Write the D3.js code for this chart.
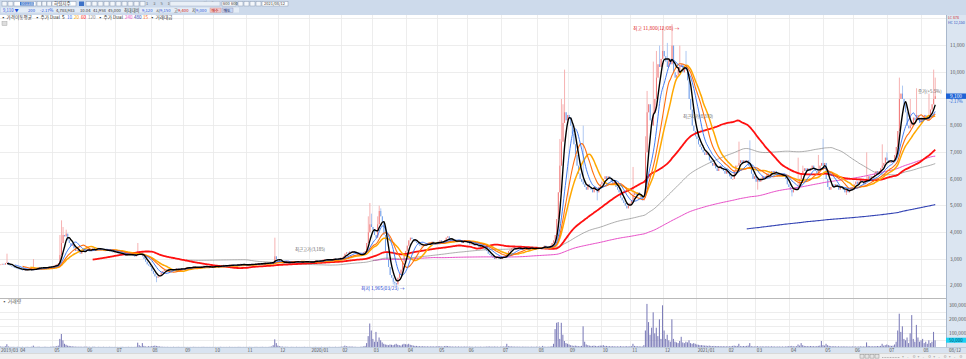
<!DOCTYPE html>
<html><head><meta charset="utf-8">
<script src="https://cdn.jsdelivr.net/npm/d3@7"></script>
<style>
body{margin:0;background:#fff;overflow:hidden}
svg{display:block;font-family:"Noto Sans CJK KR","Noto Sans",sans-serif}
</style></head><body>
<svg id="chart" width="966" height="359"></svg>
<script>
// month labels on the date axis
const monthLabels = ['2019/03','04','05','06','07','08','09','10','11','12',
  '2020/01','02','03','04','05','06','07','08','09','10','11','12',
  '2021/01','02','03','04','05','06','07','08'];

// daily closing prices, one array per month (won)
const closes = [
  [2800,2820,2790,2850,2880,2780,2750,2720,2700,2680,2650,2640],
  [2620,2600,2590,2610,2580,2600,2620,2600,2590,2610,2630,2650,2700,2680,2660,2650,2680,2700,2690,2710,2700,2720],
  [2750,2780,2800,2850,3150,3600,3900,3850,3950,3700,3600,3500,3550,3400,3300,3350,3250,3200,3300,3350,3300],
  [3350,3380,3300,3320,3400,3380,3350,3420,3400,3380,3350,3300,3320,3350,3330,3300,3280,3250,3270],
  [3250,3220,3200,3180,3200,3150,3120,3150,3180,3200,3150,3120,3100,3150,3300,3200,3150,3100,3000,2900,2800,2750,2700],
  [2550,2450,2350,2300,2350,2400,2500,2550,2600,2580,2600,2620,2600,2580,2600,2620,2650,2600,2620,2640,2650],
  [2650,2680,2700,2680,2660,2700,2720,2700,2680,2660,2700,2720,2750,2730,2700,2680,2700,2720,2700],
  [2720,2750,2730,2700,2720,2760,2780,2750,2730,2750,2770,2800,2780,2760,2750,2780,2800,2820,2800,2780,2760],
  [2780,2800,2820,2800,2780,2800,2820,2850,2830,2800,2820,2850,2870,2850,2830,2850,2880,2900,3100,3000,2950],
  [2900,2880,2850,2870,2900,2880,2850,2860,2880,2900,2920,2900,2880,2870,2890,2900,2920,2900,2880,2870],
  [2880,2900,2920,2950,2930,2900,2920,2950,2980,3000,2980,2960,2950,2980,3000,3020,3000,2980,3000,3050],
  [3050,3100,3200,3250,3230,3280,3250,3300,3250,3200,3150,3120,3150,3200,3250,3300,3600,4000,4300,4200],
  [4100,3900,3800,4300,4800,4600,4400,3900,3300,3000,2700,2400,2300,2150,2100,2050,2300,2450,2600,2900,3200,3300],
  [3500,3700,3800,3750,3700,3650,3600,3550,3500,3500,3550,3500,3550,3600,3550,3600,3650,3600,3550,3600],
  [3650,3700,3650,3600,3700,3800,3850,3750,3700,3650,3650,3700,3650,3700,3650,3600,3650,3700,3650],
  [3600,3550,3600,3550,3500,3550,3500,3450,3500,3450,3400,3350,3300,3200,3150,3100,3050,3000,3050,3100,3050,3000],
  [3050,3100,3150,3200,3300,3350,3400,3450,3400,3350,3400,3450,3400,3350,3400,3450,3400,3350,3400,3450,3400,3350,3400],
  [3400,3450,3400,3450,3500,3450,3400,3450,3500,3600,3700,3900,4500,5500,6500,7400,8100,8500,8200,8400],
  [8300,8000,7700,7300,6900,6500,6200,6000,5900,5800,5700,5600,5800,5700,5600,5500,5700,5600,5500,5700,5800],
  [5900,6000,6100,6000,6100,6000,5900,5800,5900,5700,5600,5500,5300,5200,5100,5000,4900,5000,5100],
  [5200,5400,5500,5400,5500,5400,5300,5200,5300,7000,8500,8800,8200,8000,8500,9000,9800,10300,10200,10500,10800],
  [10600,10400,10200,10500,10300,11000,10000,9800,9900,10100,10200,10300,10000,10200,10100,9700,9000,8600,8000,7800,7600],
  [7500,7300,7200,7100,7000,6900,7000,6900,6700,6600,6500,6600,6400,6300,6400,6500,6400,6300,6200,6300],
  [6200,6100,6000,6000,6300,6500,6500,6600,6700,6600,6700,6600,6700,6500,6400,6200,6000,6100],
  [5900,6000,5900,6000,6100,6000,6100,6200,6100,6200,6300,6200,6300,6200,6100,6200,6100,6200,6100,6000,5800,5700],
  [5600,5500,5600,5700,5600,5700,6000,6200,6300,6400,6300,6400,6300,6400,6500,6400,6300,6200,6300,6500,6600,6500],
  [6600,6000,5700,5600,5700,5800,5700,5800,5700,5600,5700,5700,5600,5500,5600,5500,5600,5700,5600],
  [5800,5900,5800,5900,6000,5900,5800,5900,6000,6100,6000,6100,6100,6200,6300,6200,6300,6400,6500,6600,6800,6700],
  [6600,6700,6600,6700,6900,7200,7800,9000,9200,9000,8800,8500,8000,7900,8000,8100,8300,8200,8400,8300,8100,8300],
  [8200,8400,8300,8200,8400,8600,8800,9000,9100]
];

// daily volume in thousands of shares, one array per month
const volumes = [
  [6,5,4,8,22,6,4,3,4,3,3,4],
  [3,3,4,3,3,4,3,3,5,12,4,3,5,4,3,3,4,4,3,3,4,5],
  [5,6,8,12,60,95,50,25,18,12,10,8,7,6,5,5,4,5,4,4,5],
  [5,4,4,3,4,5,3,3,4,3,3,4,3,3,3,4,3,3,3],
  [3,3,3,3,4,3,3,3,4,3,3,3,3,4,33,15,8,30,10,6,5,8,6],
  [8,10,12,10,8,6,5,4,4,3,4,3,3,3,4,3,3,4,3,3,3],
  [3,3,3,3,3,3,4,3,3,3,3,3,4,3,3,3,3,3,3],
  [3,3,3,3,4,3,3,3,3,3,4,3,3,3,3,3,4,3,3,3,3],
  [3,3,4,3,3,3,4,3,3,3,4,3,3,3,3,5,6,15,57,30,12],
  [8,6,5,4,4,4,3,3,4,3,3,4,3,3,3,3,4,3,3,3],
  [3,3,3,4,3,3,3,4,3,3,3,3,4,3,3,3,4,3,3,4],
  [5,6,12,8,6,5,6,5,4,4,3,3,4,5,6,10,30,80,170,120],
  [60,40,110,40,70,50,35,25,20,18,15,20,18,15,20,25,18,15,12,20,25,22],
  [20,25,18,15,12,10,10,8,8,7,8,7,6,7,6,6,7,6,6,7],
  [7,8,6,6,8,10,9,7,6,6,5,6,5,6,5,5,5,6,5],
  [5,5,5,4,4,5,4,4,5,4,4,5,5,6,6,5,5,6,5,5,4,5],
  [5,6,6,25,8,7,6,6,5,5,5,5,4,5,5,4,5,4,4,5,4,4,5],
  [4,5,4,10,5,4,4,5,5,8,25,130,175,180,60,175,90,45,30,25],
  [20,15,12,10,12,10,8,8,10,150,40,20,15,12,10,10,12,10,8,10,12],
  [12,15,10,10,8,8,7,8,7,6,7,6,8,7,6,7,8,6,7],
  [8,25,10,8,7,7,6,6,15,120,310,180,90,140,250,100,140,80,200,60,300],
  [120,60,90,50,40,200,60,40,35,30,45,75,35,30,40,35,50,30,25,30,25],
  [20,18,15,15,14,12,12,10,12,10,9,10,8,9,8,8,7,8,7,7],
  [7,7,8,10,12,10,10,25,8,8,9,8,10,12,30,8,7,6],
  [7,8,6,6,7,6,6,7,6,6,7,6,6,5,6,6,5,6,5,6,7,8],
  [8,10,7,7,8,20,12,30,15,10,9,8,8,9,8,8,7,8,10,12,45,15],
  [12,25,15,10,8,7,8,7,6,7,6,6,7,6,6,6,5,6,6],
  [6,6,5,6,7,6,6,6,35,10,8,7,8,7,8,9,8,10,25,12,15,20],
  [15,12,10,12,20,40,120,240,110,150,60,50,70,30,100,230,60,40,160,70,40,50],
  [60,30,40,25,50,30,40,110,50]
];

// intraday extremes that stick out of the bodies: [day index, price]
const wickHighs = [[4,3200],[21,3000],[38,3900],[39,4450],[40,4200],[42,4100],[88,3600],[176,3800],
  [236,4600],[237,5100],[238,4700],[242,4600],[243,5000],[244,4900],
  [359,7500],[360,9000],[361,8800],[362,10100],[374,8000],[406,6450],[414,7600],[415,9300],
  [419,10400],[421,10800],[423,11000],[425,11700],[428,11100],[431,11800],[436,11000],[440,10800],
  [474,7400],[481,7450],[512,6800],[515,6500],[525,6900],[528,7500],[556,7000],[566,7300],[569,7000],
  [577,9800],[579,9500],[584,9000],[588,9400],[596,9200],[599,10100],[600,9800]];
const wickLows = [[100,2130],[252,2050],[253,2000],[254,1965],[383,5200],[486,5600],[508,5350],[531,5750],[543,5400]];

const maPeriods = [480,240,120,60,20,15,10,5];
const priceTicks = [2000,3000,4000,5000,6000,7000,8000,9000,10000,11000,12000];
const volumeTicks = [100,200,300];

const maStyle = {
  5:{c:'#000000',w:1.4}, 10:{c:'#2f6ef0',w:0.9}, 15:{c:'#ff6f10',w:1.1}, 20:{c:'#ffa800',w:1.5},
  60:{c:'#ff1010',w:1.8}, 120:{c:'#8a8a8a',w:0.7}, 240:{c:'#e84fc8',w:1}, 480:{c:'#3444b4',w:1.1}
};

// ---- build flat daily table ----
const data = [];
const monthStart = [];
closes.forEach((m, mi) => {
  monthStart.push(data.length);
  m.forEach((c, di) => data.push({close: c, vol: volumes[mi][di]}));
});
data.forEach((d, i) => {
  d.i = i;
  d.open = i === 0 ? d.close : data[i - 1].close;
  d.high = Math.max(d.open, d.close);
  d.low = Math.min(d.open, d.close);
});
wickHighs.forEach(([i, v]) => { data[i].high = Math.max(data[i].high, v); });
wickLows.forEach(([i, v]) => { data[i].low = Math.min(data[i].low, v); });

function movingAverage(n) {
  const out = [];
  let sum = 0;
  data.forEach((d, i) => {
    sum += d.close;
    if (i >= n) sum -= data[i - n].close;
    if (i >= n - 1) out.push({i: i, v: sum / n});
  });
  return out;
}

const svg = d3.select('#chart');
const W = 966, H = 359;
const plotRight = 946;
const x = d3.scaleBand().domain(d3.range(data.length)).range([0, 936]);
const bw = x.bandwidth();
const cx = i => x(i) + bw / 2;
const y = d3.scaleLinear().domain([2000, 11000]).range([285.7, 45.6]);
const yv = d3.scaleLinear().domain([0, 300]).range([347.3, 305.3]);

// ---- header ----
svg.append('rect').attr('x', 0).attr('y', 0).attr('width', W).attr('height', 15).attr('fill', '#cddaeb');
const hdr = svg.append('g').style('font-size', '5px').attr('fill', '#333');
[2, 8].forEach(px => hdr.append('rect').attr('x', px).attr('y', 1.5).attr('width', 5).attr('height', 4.5)
  .attr('fill', '#f4f7fb').attr('stroke', '#8a9ab2').attr('stroke-width', 0.5));
hdr.append('rect').attr('x', 14).attr('y', 1.5).attr('width', 22).attr('height', 4.5).attr('fill', '#fff').attr('stroke', '#8a9ab2').attr('stroke-width', 0.5);
hdr.append('rect').attr('x', 20).attr('y', 2).attr('width', 14).attr('height', 3.5).attr('fill', '#3d72c8');
hdr.append('text').attr('x', 21).attr('y', 5).attr('fill', '#fff').style('font-size', '4px').text('003380');
[37, 42, 47].forEach(px => hdr.append('rect').attr('x', px).attr('y', 1.5).attr('width', 4.5).attr('height', 4.5)
  .attr('fill', '#f4f7fb').attr('stroke', '#8a9ab2').attr('stroke-width', 0.5));
hdr.append('rect').attr('x', 52).attr('y', 1.5).attr('width', 24).attr('height', 4.5).attr('fill', '#fff').attr('stroke', '#8a9ab2').attr('stroke-width', 0.5);
hdr.append('text').attr('x', 54).attr('y', 5.3).style('font-size', '4.5px').text('하림지주');
hdr.append('rect').attr('x', 79).attr('y', 1.5).attr('width', 5).attr('height', 4.5).attr('fill', '#3d72c8');
d3.range(10).forEach(k => hdr.append('rect').attr('x', 86 + k * 6).attr('y', 1.5).attr('width', 5).attr('height', 4.5)
  .attr('fill', '#f4f7fb').attr('stroke', '#8a9ab2').attr('stroke-width', 0.5));
['1','3','5','10','15','30','60','120','일','주'].forEach((t, k) => hdr.append('text')
  .attr('x', 146 + k * 7.2).attr('y', 5.3).style('font-size', '4px').attr('fill', '#666').text(t));
hdr.append('rect').attr('x', 170).attr('y', 1.5).attr('width', 50).attr('height', 4.5).attr('fill', '#eaf0f7').attr('stroke', '#a7b5c9').attr('stroke-width', 0.5);
hdr.append('rect').attr('x', 222).attr('y', 1.5).attr('width', 14).attr('height', 4.5).attr('fill', '#fff').attr('stroke', '#8a9ab2').attr('stroke-width', 0.5);
hdr.append('text').attr('x', 223).attr('y', 5.3).style('font-size', '4px').text('600');
hdr.append('text').attr('x', 231).attr('y', 5.3).style('font-size', '4px').text('600');
[238, 244, 250, 256].forEach(px => hdr.append('rect').attr('x', px).attr('y', 1.5).attr('width', 5).attr('height', 4.5)
  .attr('fill', '#f4f7fb').attr('stroke', '#8a9ab2').attr('stroke-width', 0.5));
hdr.append('rect').attr('x', 262).attr('y', 1.5).attr('width', 26).attr('height', 4.5).attr('fill', '#fff').attr('stroke', '#8a9ab2').attr('stroke-width', 0.5);
hdr.append('text').attr('x', 264).attr('y', 5.3).style('font-size', '4px').text('2021/08/12');
// second header row: quote line
const quote = [['9,110 ▼',3,'#1d4fd8'],['200',28,'#1d4fd8'],['-2.17%',40,'#1d4fd8'],['4,788,983',56,'#333'],
  ['10.04',80,'#333'],['41,958',93,'#333'],['45,000',108,'#333'],['최대대비',124,'#333'],['9,120',142,'#1d4fd8'],
  ['시',156,'#333'],['9,150',160,'#1d4fd8'],['고',174,'#333'],['9,400',178,'#d01010'],['저',192,'#333'],['9,000',196,'#1d4fd8']];
svg.append('rect').attr('x', 1).attr('y', 7.5).attr('width', 238).attr('height', 5).attr('fill', '#e4ecf6');
quote.forEach(([t, px, c]) => svg.append('text').attr('x', px).attr('y', 11.8).style('font-size', '4.2px').attr('fill', c).text(t));
svg.append('rect').attr('x', 210).attr('y', 8).attr('width', 11).attr('height', 4.3).attr('fill', '#f3c7c7').attr('stroke', '#c88').attr('stroke-width', 0.4);
svg.append('text').attr('x', 211.5).attr('y', 11.6).style('font-size', '3.8px').attr('fill', '#a00').text('매수');
svg.append('rect').attr('x', 222).attr('y', 8).attr('width', 11).attr('height', 4.3).attr('fill', '#c7d6f3').attr('stroke', '#88a').attr('stroke-width', 0.4);
svg.append('text').attr('x', 223.5).attr('y', 11.6).style('font-size', '3.8px').attr('fill', '#004').text('매도');

// ---- grid ----
const grid = svg.append('g').attr('stroke', '#e9e9e9').attr('stroke-width', 0.8).attr('shape-rendering', 'crispEdges');
monthStart.slice(1).forEach(s => grid.append('line').attr('x1', x(s)).attr('x2', x(s)).attr('y1', 15).attr('y2', 347));
priceTicks.forEach(t => grid.append('line').attr('x1', 0).attr('x2', plotRight).attr('y1', y(t)).attr('y2', y(t)));
[50,100,150,200,250].forEach(t => grid.append('line').attr('x1', 0).attr('x2', plotRight).attr('y1', yv(t)).attr('y2', yv(t)));

// legend row
const leg = svg.append('g').style('font-size', '4.6px');
const legItems = [['▪ 가격이동평균',1,'#333'],['▪ 주가 Dual',35,'#333'],['5',62,'#000'],['10',67,'#2f6ef0'],['20',74,'#ffa800'],
  ['60',81,'#ff1010'],['120',88,'#8a8a8a'],['▪ 주가 Dual',98,'#333'],['240',125,'#e84fc8'],['480',134,'#3444b4'],['15',143,'#ff6f10'],['▪ 거래대금',150,'#333']];
legItems.forEach(([t, px, c]) => leg.append('text').attr('x', px).attr('y', 19.2).attr('fill', c).text(t));
svg.append('rect').attr('x', 2).attr('y', 21.5).attr('width', 5).attr('height', 4).attr('fill', '#ddd').attr('stroke', '#999').attr('stroke-width', 0.4);

// ---- candles ----
const plot = svg.append('g');
const cand = plot.append('g');
data.forEach(d => {
  const up = d.close >= d.open;
  cand.append('line').attr('x1', cx(d.i)).attr('x2', cx(d.i))
    .attr('y1', y(d.high)).attr('y2', y(d.low))
    .attr('stroke', up ? '#f5aaaa' : '#a6c2f0').attr('stroke-width', 0.9);
  const top = y(Math.max(d.open, d.close)), bot = y(Math.min(d.open, d.close));
  cand.append('rect').attr('x', x(d.i) + 0.3).attr('width', bw - 0.6)
    .attr('y', top).attr('height', Math.max(0.8, bot - top))
    .attr('fill', up ? '#f06262' : '#5a90e8').attr('opacity', 0.75);
});

// ---- moving averages ----
const line = d3.line().x(p => cx(p.i)).y(p => y(p.v)).curve(d3.curveMonotoneX);
maPeriods.forEach(n => {
  plot.append('path').datum(movingAverage(n)).attr('d', line)
    .attr('fill', 'none').attr('stroke', maStyle[n].c).attr('stroke-width', maStyle[n].w)
    .attr('stroke-linejoin', 'round');
});

// annotations
svg.append('text').attr('x', 633).attr('y', 30).style('font-size', '4.8px').attr('fill', '#e02020').text('최고 11,800(12/08) →');
svg.append('text').attr('x', 361).attr('y', 290).style('font-size', '4.8px').attr('fill', '#2040d0').text('최저 1,965(03/23) →');
svg.append('text').attr('x', 295).attr('y', 251).style('font-size', '4.4px').attr('fill', '#666').text('최근고가(3,185)');
svg.append('text').attr('x', 683).attr('y', 118).style('font-size', '4.4px').attr('fill', '#666').text('최근저가(8,370)');
svg.append('text').attr('x', 918).attr('y', 93).style('font-size', '4.4px').attr('fill', '#666').text('종가(+5.5%)');

// ---- volume panel ----
svg.append('line').attr('x1', 0).attr('x2', plotRight).attr('y1', 298.5).attr('y2', 298.5).attr('stroke', '#b9b9b9').attr('stroke-width', 1);
svg.append('text').attr('x', 2).attr('y', 303).style('font-size', '4.8px').attr('fill', '#555').text('▪ 거래량');
const vg = svg.append('g');
data.forEach(d => {
  vg.append('rect').attr('x', x(d.i) + 0.1).attr('width', Math.max(0.8, bw - 0.5))
    .attr('y', yv(d.vol)).attr('height', yv(0) - yv(d.vol)).attr('fill', '#7d7db9');
});

// ---- right axis panel ----
svg.append('rect').attr('x', plotRight).attr('y', 15).attr('width', W - plotRight).attr('height', 338).attr('fill', '#dbe5f1');
svg.append('line').attr('x1', plotRight + 0.5).attr('x2', plotRight + 0.5).attr('y1', 15).attr('y2', 353).attr('stroke', '#a9b8cc');
const last = data[data.length - 1];
const ax = svg.append('g').style('font-size', '4.8px').attr('fill', '#555');
// the current price box covers the nearest tick
priceTicks.filter(t => t < 12000 && Math.abs(t - last.close) > 400)
  .forEach(t => ax.append('text').attr('x', 950).attr('y', y(t) + 1.6).text(d3.format(',')(t)));
volumeTicks.forEach(t => ax.append('text').attr('x', 949).attr('y', yv(t) + 1.6).text(d3.format(',')(t * 1000)));
svg.append('text').attr('x', 948).attr('y', 19.3).style('font-size', '3.6px').attr('fill', '#d03030').text('LC 878');
svg.append('text').attr('x', 948).attr('y', 23.6).style('font-size', '3.6px').attr('fill', '#3050c0').text('HC 12,150');
// current price box
svg.append('rect').attr('x', 946).attr('y', y(last.close) - 2.8).attr('width', 20).attr('height', 5.4).attr('fill', '#1e63d6');
svg.append('text').attr('x', 950).attr('y', y(last.close) + 1.6).style('font-size', '4.8px').attr('fill', '#fff').text(d3.format(',')(last.close));
svg.append('text').attr('x', 949).attr('y', y(last.close) + 7).style('font-size', '4.3px').attr('fill', '#1e63d6').text('-2.17%');
svg.append('rect').attr('x', 946).attr('y', yv(last.vol) - 2.6).attr('width', 20).attr('height', 5).attr('fill', '#19d2f5');
svg.append('text').attr('x', 949).attr('y', yv(last.vol) + 1.5).style('font-size', '4.5px').attr('fill', '#05506a').text(d3.format(',')(last.vol * 1000));

// ---- date axis ----
svg.append('rect').attr('x', 0).attr('y', 347.3).attr('width', W).attr('height', 6).attr('fill', '#d9e3f0');
svg.append('line').attr('x1', 0).attr('x2', W).attr('y1', 347.5).attr('y2', 347.5).attr('stroke', '#a9b8cc').attr('stroke-width', 0.6);
const dx = svg.append('g').style('font-size', '4.6px').attr('fill', '#555');
monthStart.forEach((s, k) => dx.append('text').attr('x', k === 0 ? 1 : x(s) + 1.5).attr('y', 352).text(monthLabels[k]));
dx.append('text').attr('x', 949).attr('y', 352).text('08/12');
// scroll bar
svg.append('rect').attr('x', 0).attr('y', 353.3).attr('width', W).attr('height', 5.7).attr('fill', '#f0f0f0');
svg.append('line').attr('x1', 0).attr('x2', W).attr('y1', 353.5).attr('y2', 353.5).attr('stroke', '#c8c8c8').attr('stroke-width', 0.6);
d3.range(4).forEach(k => svg.append('rect').attr('x', 860 + k * 5).attr('y', 354.5).attr('width', 4).attr('height', 3.6)
  .attr('fill', '#e4e4e4').attr('stroke', '#777').attr('stroke-width', 0.4));
svg.append('line').attr('x1', 882).attr('x2', 900).attr('y1', 357.5).attr('y2', 357.5).attr('stroke', '#777').attr('stroke-width', 0.5).attr('stroke-dasharray', '1,0.6');
d3.range(12).forEach(k => svg.append('text').attr('x', 902 + k * 5.2).attr('y', 357.8).style('font-size', '3.5px').attr('fill', '#666').text('+-ㅁ'.charAt(k % 3)));
</script>
</body></html>
